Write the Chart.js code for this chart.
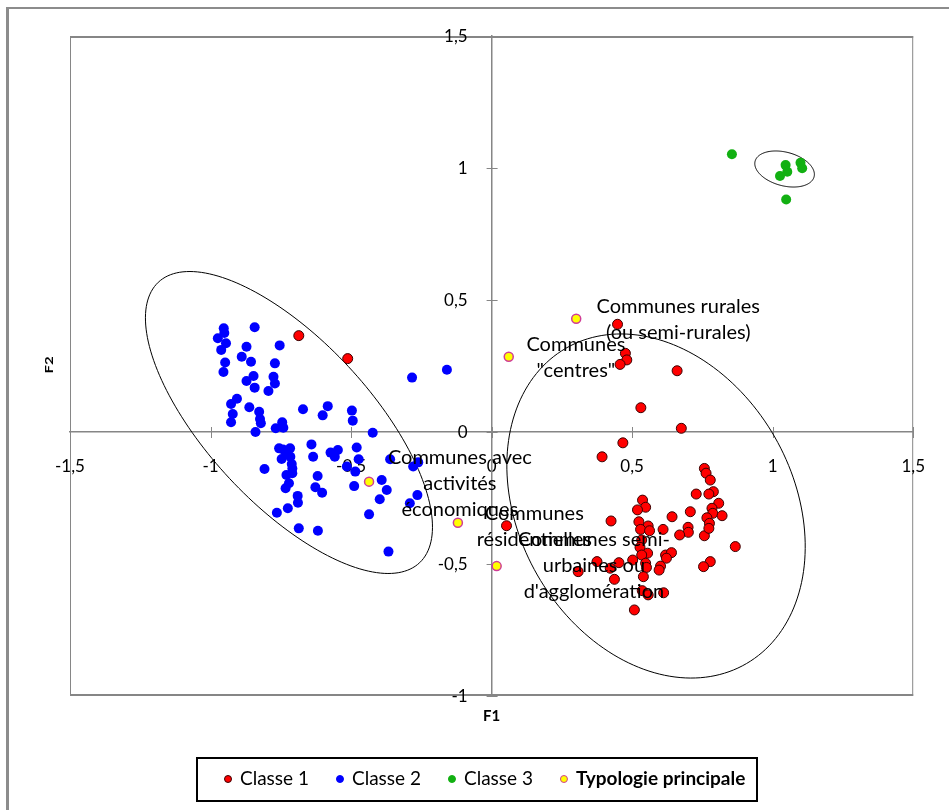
<!DOCTYPE html>
<html>
<head>
<meta charset="utf-8">
<script src="https://cdn.jsdelivr.net/npm/chart.js@4.4.1/dist/chart.umd.min.js"></script>
<style>
  html, body { margin: 0; padding: 0; background: #fff; }
  #wrap { position: relative; width: 949px; height: 810px; }
</style>
</head>
<body>
<div id="wrap"><canvas id="acp"></canvas></div>
<script>
// F1 / F2 coordinates
var classe1 = [
  [-0.686, 0.365], [-0.512, 0.278],
  [0.448, 0.408], [0.476, 0.298], [0.481, 0.273], [0.457, 0.256], [0.660, 0.232],
  [0.531, 0.092], [0.675, 0.014], [0.467, -0.041], [0.393, -0.094], [0.053, -0.355],
  [0.757, -0.138], [0.763, -0.156], [0.778, -0.182], [0.728, -0.235], [0.789, -0.226],
  [0.773, -0.235], [0.537, -0.258], [0.548, -0.285], [0.519, -0.295], [0.808, -0.270],
  [0.784, -0.289], [0.707, -0.302], [0.787, -0.308], [0.820, -0.317], [0.766, -0.325],
  [0.642, -0.321], [0.425, -0.337], [0.524, -0.340], [0.557, -0.356], [0.775, -0.346],
  [0.530, -0.369], [0.562, -0.374], [0.610, -0.369], [0.699, -0.361], [0.700, -0.380],
  [0.669, -0.390], [0.757, -0.393], [0.773, -0.365], [0.534, -0.409], [0.867, -0.434],
  [0.528, -0.437], [0.555, -0.459], [0.619, -0.466], [0.640, -0.457], [0.622, -0.478],
  [0.534, -0.466], [0.375, -0.491], [0.453, -0.495], [0.502, -0.485], [0.548, -0.497],
  [0.601, -0.508], [0.596, -0.523], [0.551, -0.513], [0.778, -0.491], [0.754, -0.510],
  [0.308, -0.529], [0.422, -0.516], [0.540, -0.548], [0.437, -0.558], [0.536, -0.601],
  [0.557, -0.617], [0.612, -0.609], [0.508, -0.674]
];

var classe2 = [
  [-0.953, 0.393], [-0.951, 0.375], [-0.974, 0.355], [-0.945, 0.336], [-0.962, 0.311],
  [-0.843, 0.397], [-0.754, 0.328], [-0.872, 0.323], [-0.889, 0.285], [-0.856, 0.266],
  [-0.948, 0.263], [-0.771, 0.260], [-0.954, 0.227], [-0.847, 0.212], [-0.776, 0.209],
  [-0.872, 0.193], [-0.771, 0.184], [-0.843, 0.168], [-0.794, 0.155], [-0.906, 0.126],
  [-0.927, 0.106], [-0.862, 0.094], [-0.827, 0.077], [-0.921, 0.068], [-0.824, 0.049],
  [-0.927, 0.037], [-0.821, 0.033], [-0.745, 0.037], [-0.768, 0.014], [-0.741, 0.016],
  [-0.840, 0.000], [-0.671, 0.086], [-0.583, 0.098], [-0.601, 0.063], [-0.497, 0.081],
  [-0.494, 0.043], [-0.423, -0.003], [-0.283, 0.206], [-0.159, 0.236],
  [-0.756, -0.062], [-0.742, -0.066], [-0.717, -0.062], [-0.730, -0.083], [-0.747, -0.102],
  [-0.716, -0.094], [-0.711, -0.121], [-0.709, -0.138], [-0.730, -0.163], [-0.709, -0.156],
  [-0.721, -0.194], [-0.733, -0.213], [-0.808, -0.140], [-0.641, -0.047], [-0.635, -0.094],
  [-0.619, -0.167], [-0.627, -0.209], [-0.603, -0.230], [-0.690, -0.242], [-0.689, -0.268],
  [-0.725, -0.289], [-0.764, -0.306], [-0.686, -0.365], [-0.618, -0.374], [-0.573, -0.078],
  [-0.547, -0.068], [-0.558, -0.094], [-0.480, -0.059], [-0.473, -0.103], [-0.515, -0.131],
  [-0.485, -0.150], [-0.489, -0.205], [-0.391, -0.182], [-0.373, -0.220], [-0.398, -0.255],
  [-0.436, -0.312], [-0.361, -0.103], [-0.279, -0.131], [-0.261, -0.115], [-0.264, -0.239],
  [-0.291, -0.270], [-0.367, -0.453]
];

var classe3 = [
  [0.855, 1.052], [1.046, 1.011], [1.052, 0.986], [1.026, 0.970],
  [1.099, 1.020], [1.105, 0.999], [1.048, 0.881]
];

var typologie = [
  [0.301, 0.429], [0.061, 0.285], [-0.436, -0.188], [-0.120, -0.344], [0.018, -0.508]
];

var seriesNames = ['Classe 1', 'Classe 2', 'Classe 3', 'Typologie principale'];

// text of the label next to each point of the main typology
var typoLabels = [
  ['Communes rurales', '(ou semi-rurales)'],
  ['Communes', '"centres"'],
  ['Communes avec', 'activités', 'économiques'],
  ['Communes', 'résidentielles'],
  ['Communes semi-', 'urbaines ou', "d'agglomération"]
];
// where the first line of each label sits (F1, F2)
var typoLabelPos = [[0.664, 0.477], [0.300, 0.330], [-0.113, -0.095], [0.152, -0.307], [0.364, -0.409]];

// class ellipses: centre and two conjugate half axes, in F1/F2 units
var ellipses = [
  { cx: -0.721, cy: 0.036, ux: 0.465, uy: -0.531, vx: -0.211, vy: -0.2125 },
  { cx: 0.585, cy: -0.2803, ux: 0.3216, uy: -0.597, vx: -0.4223, vy: -0.2614 },
  { cx: 1.0424, cy: 0.9962, ux: 0.1049, uy: -0.0295, vx: -0.0151, vy: -0.0616 }
];

function toPoints(arr) {
  return arr.map(function (p) { return { x: p[0], y: p[1] }; });
}

function fmt(v) {
  return String(v).replace('.', ',');
}

var decor = {
  id: 'decor',
  beforeDraw: function (chart) {
    var ctx = chart.ctx, a = chart.chartArea;
    ctx.save();
    // sheet frame
    ctx.strokeStyle = '#8c8c8c';
    ctx.lineWidth = 3;
    ctx.beginPath(); ctx.moveTo(7.5, 810); ctx.lineTo(7.5, 8); ctx.stroke();
    ctx.lineWidth = 2;
    ctx.beginPath(); ctx.moveTo(6, 8); ctx.lineTo(949, 8); ctx.stroke();
    // plot area border
    ctx.strokeStyle = '#868686';
    ctx.lineWidth = 1;
    ctx.beginPath();
    ctx.moveTo(a.left + 0.5, a.top); ctx.lineTo(a.left + 0.5, a.bottom);
    ctx.moveTo(a.right - 0.5, a.top); ctx.lineTo(a.right - 0.5, a.bottom);
    ctx.stroke();
    ctx.lineWidth = 2;
    ctx.beginPath();
    ctx.moveTo(a.left, a.top + 1); ctx.lineTo(a.right, a.top + 1);
    ctx.moveTo(a.left, a.bottom - 1); ctx.lineTo(a.right, a.bottom - 1);
    ctx.stroke();
    ctx.restore();
  },
  beforeDatasetsDraw: function (chart) {
    var ctx = chart.ctx, sx = chart.scales.x, sy = chart.scales.y;
    var x0 = sx.getPixelForValue(0), y0 = sy.getPixelForValue(0);
    ctx.save();
    // cross tick marks on both axes
    ctx.strokeStyle = '#868686';
    ctx.lineWidth = 1;
    ctx.beginPath();
    sx.ticks.forEach(function (t) {
      var px = Math.round(sx.getPixelForValue(t.value)) + 0.5;
      ctx.moveTo(px, y0 - 5); ctx.lineTo(px, y0 + 6);
    });
    sy.ticks.forEach(function (t) {
      var py = Math.round(sy.getPixelForValue(t.value)) + 0.5;
      ctx.moveTo(x0 - 5, py); ctx.lineTo(x0 + 6, py);
    });
    ctx.stroke();
    // y tick labels, left of the vertical axis
    ctx.fillStyle = '#000';
    ctx.font = '17px Lato';
    ctx.textAlign = 'right';
    ctx.textBaseline = 'middle';
    sy.ticks.forEach(function (t) {
      ctx.fillText(fmt(t.value), x0 - 24, sy.getPixelForValue(t.value) + 1);
    });
    // ellipses
    ctx.strokeStyle = '#000';
    ctx.lineWidth = 1;
    ellipses.forEach(function (e) {
      ctx.beginPath();
      for (var i = 0; i <= 180; i++) {
        var t = i / 180 * 2 * Math.PI;
        var px = sx.getPixelForValue(e.cx + e.ux * Math.cos(t) + e.vx * Math.sin(t));
        var py = sy.getPixelForValue(e.cy + e.uy * Math.cos(t) + e.vy * Math.sin(t));
        if (i === 0) ctx.moveTo(px, py); else ctx.lineTo(px, py);
      }
      ctx.closePath();
      ctx.stroke();
    });
    ctx.restore();
  },
  afterDatasetsDraw: function (chart) {
    var ctx = chart.ctx, sx = chart.scales.x, sy = chart.scales.y;
    ctx.save();
    ctx.fillStyle = '#000';
    ctx.font = '20px Lato';
    ctx.textAlign = 'center';
    ctx.textBaseline = 'middle';
    typoLabels.forEach(function (lines, i) {
      var px = sx.getPixelForValue(typoLabelPos[i][0]);
      var py = sy.getPixelForValue(typoLabelPos[i][1]);
      lines.forEach(function (txt, k) {
        ctx.fillText(txt, px, py + k * 26);
      });
    });
    // axis titles
    ctx.font = 'bold 15px Lato';
    ctx.fillText('F1', sx.getPixelForValue(0), 716);
    ctx.translate(50, 365);
    ctx.rotate(-Math.PI / 2);
    ctx.scale(1, 0.7);
    ctx.font = 'bold 15px Lato';
    ctx.fillText('F2', 0, 0);
    ctx.restore();

    // legend box
    ctx.save();
    ctx.strokeStyle = '#000';
    ctx.lineWidth = 2;
    ctx.strokeRect(197, 758, 560, 43);
    ctx.textAlign = 'left';
    ctx.textBaseline = 'middle';
    var lx = 228, ly = 779;
    chart.data.datasets.forEach(function (ds, i) {
      ctx.beginPath();
      ctx.arc(lx, ly, 3.5, 0, 2 * Math.PI);
      ctx.fillStyle = ds.backgroundColor;
      ctx.fill();
      ctx.lineWidth = 1;
      ctx.strokeStyle = ds.borderColor;
      ctx.stroke();
      ctx.fillStyle = '#000';
      ctx.font = (i === 3 ? 'bold ' : '') + '19px Lato';
      ctx.fillText(ds.label, lx + 12, ly);
      lx += 12 + ctx.measureText(ds.label).width + 31;
    });
    ctx.restore();
  }
};

var ctx = document.getElementById('acp').getContext('2d');
var chart = new Chart(ctx, {
  type: 'scatter',
  data: {
    datasets: [
      { label: seriesNames[0], data: toPoints(classe1), backgroundColor: '#ff0000', borderColor: '#3a0000', borderWidth: 1, pointRadius: 5 },
      { label: seriesNames[1], data: toPoints(classe2), backgroundColor: '#0000ff', borderColor: '#0000ff', borderWidth: 0, pointRadius: 5 },
      { label: seriesNames[2], data: toPoints(classe3), backgroundColor: '#12b012', borderColor: '#12b012', borderWidth: 0, pointRadius: 5 },
      { label: seriesNames[3], data: toPoints(typologie), backgroundColor: '#ffff00', borderColor: '#d03c96', borderWidth: 1.5, pointRadius: 4.5 }
    ]
  },
  options: {
    responsive: true,
    maintainAspectRatio: false,
    animation: false,
    events: [],
    layout: { padding: { left: 70, right: 31, top: 36, bottom: 114 } },
    plugins: {
      legend: { display: false },
      tooltip: { enabled: false }
    },
    scales: {
      x: {
        type: 'linear',
        min: -1.5, max: 1.5,
        position: { y: 0 },
        grid: { display: false, drawTicks: false },
        border: { color: '#868686', width: 1.5 },
        ticks: {
          stepSize: 0.5,
          padding: 24,
          color: '#000',
          font: { family: 'Lato', size: 17 },
          maxRotation: 0,
          autoSkip: false,
          callback: function (v) { return fmt(v); }
        }
      },
      y: {
        type: 'linear',
        min: -1, max: 1.5,
        position: { x: 0 },
        grid: { display: false, drawTicks: false },
        border: { color: '#868686', width: 1.5 },
        ticks: { stepSize: 0.5, display: false }
      }
    }
  },
  plugins: [decor]
});
</script>
</body>
</html>
